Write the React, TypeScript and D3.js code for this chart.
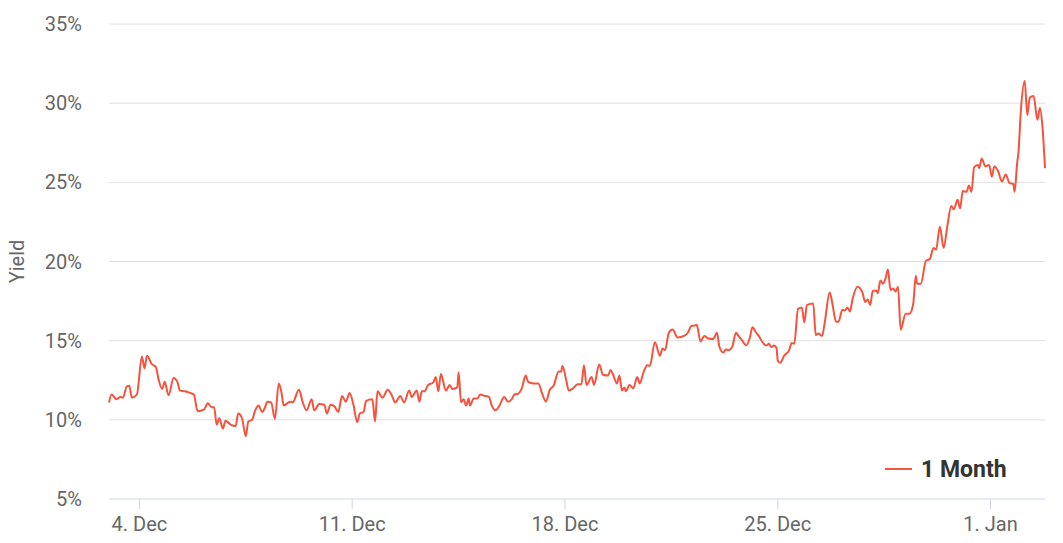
import React from 'react';
import * as d3 from 'd3';

// hours after 3 Dec 00:00, and 1 month yield (%)
const hours = [
  0, 2, 6, 9, 11, 14, 16, 18, 22, 26, 28, 30, 34, 37, 39, 42, 44, 47, 51, 54, 56, 60, 64, 67,
  70, 75, 78, 81, 83, 85, 87, 90, 92, 96, 100, 102, 105, 108, 110, 113, 115, 118, 121, 123,
  125, 128, 131, 134, 136, 138, 143, 145, 150, 153, 156, 160, 162, 166, 170, 172, 175, 178,
  181, 184, 187, 190, 193, 196, 198, 201, 203, 208, 210, 212, 216, 220, 223, 226, 230, 233,
  237, 239, 243, 245, 247, 249, 252, 256, 258, 260, 262, 266, 269, 271, 275, 276, 278, 280,
  282, 284, 285, 288, 291, 293, 297, 300, 302, 305, 308, 312, 315, 318, 320, 323, 326, 329,
  331, 335, 339, 342, 345, 348, 351, 355, 357, 358, 361, 363, 366, 370, 373, 375, 377, 381,
  383, 387, 390, 394, 396, 398, 401, 403, 405, 407, 408, 411, 414, 417, 419, 422, 425, 427,
  431, 435, 437, 439, 442, 445, 449, 454, 457, 460, 462, 464, 467, 470, 473, 477, 480, 482,
  485, 487, 489, 492, 495, 497, 500, 503, 506, 508, 511, 513, 516, 519, 521, 523, 525, 527,
  528, 530, 533, 537, 539, 541, 544, 547, 549, 551, 556, 558, 560, 563, 565, 569, 571, 574,
  576, 579, 581, 583, 585, 587, 591, 595, 597, 599, 601, 603, 606, 607, 609, 611, 613, 615,
  617, 619, 621, 623, 625, 629, 632, 635, 637, 638, 641, 645, 648, 651, 653, 656, 659, 662,
  665, 667, 670, 672, 674, 677, 679, 681, 683, 686, 687, 689, 692, 695, 697, 699, 702, 705,
  708, 711, 714, 715, 717, 718, 720, 723, 725, 727, 730, 733, 735, 737, 739,
];

const yields = [
  11.1, 11.6, 11.3, 11.45, 11.4, 12.1, 12.15, 11.4, 11.6, 14.0, 13.25, 14.05, 13.5, 13.35, 12.6, 11.95, 12.4, 11.55, 12.65, 12.4, 11.85, 11.8, 11.7, 11.6,
  10.55, 10.65, 11.05, 10.8, 10.8, 9.7, 10.1, 9.45, 9.95, 9.7, 9.6, 10.4, 10.1, 8.97, 9.9, 10.0, 10.5, 10.9, 10.5, 10.75,
  11.15, 11.1, 10.05, 12.3, 11.8, 10.9, 11.15, 11.1, 11.9, 11.1, 10.6, 11.3, 10.6, 11.0, 10.95, 10.4, 10.95, 10.85,
  10.5, 11.5, 11.15, 11.7, 10.95, 9.85, 10.4, 10.5, 11.2, 11.3, 9.9, 11.8, 11.4, 11.9, 11.6, 11.1, 11.5, 11.1,
  11.85, 11.45, 11.85, 11.15, 11.8, 11.8, 12.2, 12.35, 12.7, 11.8, 12.9, 11.85, 12.2, 11.95, 12.05, 13.0, 11.1, 11.3,
  10.9, 11.35, 10.9, 11.35, 11.35, 11.6, 11.5, 11.45, 10.95, 10.6, 10.85, 11.45, 11.15, 11.3, 11.6, 11.65, 12.0, 12.8,
  12.4, 12.3, 12.3, 11.65, 11.15, 11.9, 12.15, 13.05, 13.05, 13.4, 12.5, 11.85, 11.95, 12.25, 12.25, 13.45, 12.2, 12.7,
  12.2, 13.5, 12.85, 12.8, 13.15, 12.85, 12.3, 12.8, 11.85, 12.05, 11.8, 12.2, 12.0, 12.7, 12.3, 13.0, 13.45, 13.4,
  14.9, 14.05, 14.5, 14.4, 15.5, 15.7, 15.2, 15.3, 15.5, 15.95, 15.95, 16.0, 14.95, 15.3, 15.15, 15.1, 15.5, 14.6,
  14.25, 14.45, 14.4, 14.6, 15.5, 15.3, 15.0, 14.7, 15.2, 15.85, 15.5, 15.3, 14.9, 14.7, 14.8, 14.6, 14.7, 14.55,
  13.75, 13.6, 14.05, 14.4, 14.85, 14.8, 17.0, 17.1, 16.15, 17.25, 17.35, 15.35, 15.45, 15.3, 16.1, 18.05, 17.4, 16.2,
  16.2, 16.95, 16.9, 17.1, 16.85, 17.6, 18.4, 18.0, 17.45, 17.6, 17.25, 18.15, 18.15, 18.0, 18.8, 18.6, 18.9, 19.5,
  18.2, 18.3, 18.1, 18.4, 15.7, 16.7, 16.7, 17.35, 19.1, 18.6, 18.6, 20.05, 20.15, 20.85, 20.75, 22.2, 20.85, 22.3,
  23.5, 23.3, 23.9, 23.35, 24.45, 24.4, 24.8, 24.4, 25.95, 26.1, 25.9, 26.5, 26.0, 26.1, 25.35, 26.0, 25.7, 25.05,
  25.5, 24.95, 24.9, 24.4, 26.2, 26.85, 29.6, 31.4, 29.25, 30.35, 30.45, 28.95, 29.7, 28.5, 25.9,
];

const yTicks = [5, 10, 15, 20, 25, 30, 35];
const seriesName = '1 Month';
const axisTitle = 'Yield';

const start = new Date(2023, 11, 3);
const data = hours.map((h, i) => ({ date: d3.timeHour.offset(start, h), value: yields[i] }));

const W = 1063;
const H = 543;
const margin = { top: 24, right: 18, bottom: 44, left: 109 };
const color = '#f5533d';
const font = 'Roboto, "Noto Sans", sans-serif';

const App: React.FC = () => {
  const x = d3.scaleTime()
    .domain(d3.extent(data, d => d.date) as [Date, Date])
    .range([margin.left, W - margin.right]);
  const y = d3.scaleLinear()
    .domain([5, 35])
    .range([H - margin.bottom, margin.top]);

  const line = d3.line<{ date: Date; value: number }>()
    .x(d => x(d.date))
    .y(d => y(d.value))
    .curve(d3.curveMonotoneX);

  const xTicks = x.ticks(d3.timeMonday.every(1)!);
  const fmt = d3.timeFormat('%-d. %b');

  return (
    <div style={{ position: 'absolute', left: 0, top: 0 }}>
      <svg width={W} height={H} style={{ display: 'block', fontFamily: font }}>
        <rect width={W} height={H} fill="#fff" />
        {yTicks.map(t => (
          <g key={t}>
            {t > 5 && (
              <line x1={margin.left} x2={W - margin.right} y1={y(t)} y2={y(t)} stroke="#e0e0e0" strokeWidth={1} />
            )}
            <text x={82} y={y(t)} dy="0.35em" textAnchor="end" fontSize={20} fill="#666">
              {t}%
            </text>
          </g>
        ))}
        <text
          transform={`translate(24,${(margin.top + H - margin.bottom) / 2}) rotate(-90)`}
          textAnchor="middle"
          fontSize={20}
          fill="#666"
        >
          {axisTitle}
        </text>
        <line x1={margin.left} x2={W - margin.right} y1={y(5)} y2={y(5)} stroke="#ccd6eb" strokeWidth={1} />
        {xTicks.map(t => (
          <g key={t.getTime()}>
            <line x1={x(t)} x2={x(t)} y1={y(5)} y2={y(5) + 10} stroke="#ccd6eb" strokeWidth={1} />
            <text x={x(t)} y={531} textAnchor="middle" fontSize={20} fill="#666">
              {fmt(t)}
            </text>
          </g>
        ))}
        <path d={line(data) || ''} fill="none" stroke={color} strokeWidth={2} strokeLinejoin="round" />
        <g>
          <line x1={885} x2={912} y1={469} y2={469} stroke={color} strokeWidth={2} />
          <text x={921} y={477} fontSize={23} fontWeight="bold" fill="#333">
            {seriesName}
          </text>
        </g>
      </svg>
    </div>
  );
};

export default App;
